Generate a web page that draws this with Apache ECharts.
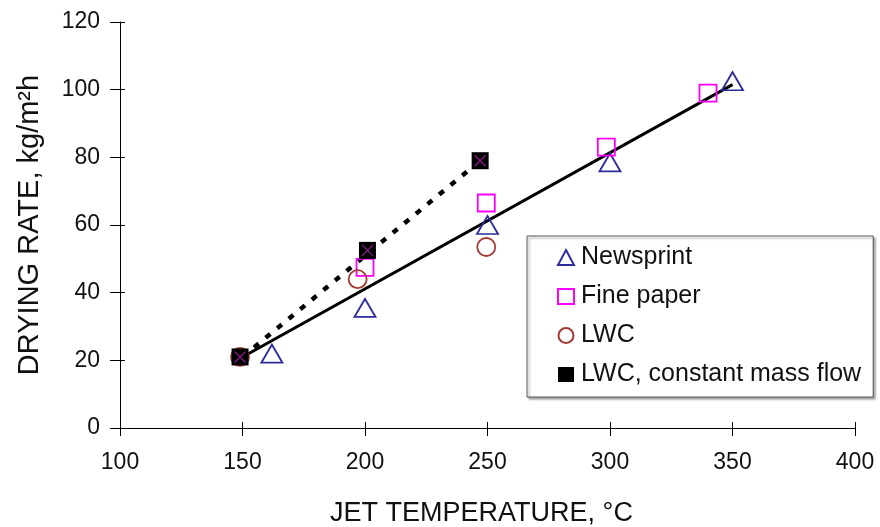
<!DOCTYPE html>
<html>
<head>
<meta charset="utf-8">
<script src="https://cdn.jsdelivr.net/npm/echarts@6/dist/echarts.min.js"></script>
<style>
  html, body { margin: 0; padding: 0; background: #fff; }
  #chart { width: 880px; height: 527px; }
</style>
</head>
<body>
<div id="chart"></div>
<script>
// Measured drying rates [jet temperature °C, kg/m²h]
const newsprint = [[162, 22], [200, 35.5], [250, 60], [300, 78.5], [350, 102.5]];
const finePaper = [[200, 47.5], [249.5, 66.5], [298.5, 83], [340, 99]];
const lwc = [[149, 21], [197, 44], [249.5, 53.5]];
const lwcConstFlow = [[149, 21], [201, 52.5], [247, 79]];

// Trend lines
const trendAll = [[150, 21], [350, 101.5]];
const trendConstFlow = [[150, 21], [247, 79]];

const xTicks = [100, 150, 200, 250, 300, 350, 400];
const yTicks = [0, 20, 40, 60, 80, 100, 120];

const font = 'Liberation Sans, Arial, sans-serif';
const xMark = 'path://M0,0 L10,10 M10,0 L0,10';

const xRange = { min: xTicks[0], max: xTicks[xTicks.length - 1], interval: 50 };
const yRange = { min: yTicks[0], max: yTicks[yTicks.length - 1], interval: 20 };

const chart = echarts.init(document.getElementById('chart'));
chart.setOption({
  animation: false,
  backgroundColor: '#fff',
  grid: { left: 120, right: 25, top: 22, bottom: 99, containLabel: false, outerBoundsMode: 'none' },
  xAxis: [
    {
      type: 'value', ...xRange,
      name: 'JET TEMPERATURE, °C',
      nameLocation: 'middle', nameGap: 72,
      nameTextStyle: { fontFamily: font, fontSize: 27, color: '#111', padding: [0, 12, 0, 0] },
      axisLine: { lineStyle: { color: '#000', width: 1 } },
      axisTick: { show: true, length: 8, lineStyle: { color: '#000' } },
      axisLabel: { fontFamily: font, fontSize: 23, color: '#111', margin: 23 },
      splitLine: { show: false }
    },
    {
      // inner half of the crossing tick marks
      type: 'value', ...xRange, position: 'bottom',
      axisLine: { show: false },
      axisTick: { show: true, inside: true, length: 6, lineStyle: { color: '#000' } },
      axisLabel: { show: false },
      splitLine: { show: false }
    }
  ],
  yAxis: [
    {
      type: 'value', ...yRange,
      name: 'DRYING RATE, kg/m²h',
      nameLocation: 'middle', nameGap: 76,
      nameTextStyle: { fontFamily: font, fontSize: 29, color: '#111' },
      axisLine: { show: true, lineStyle: { color: '#000', width: 1 } },
      axisTick: { show: true, length: 10, lineStyle: { color: '#000' } },
      axisLabel: { fontFamily: font, fontSize: 23, color: '#111', margin: 20 },
      splitLine: { show: false }
    },
    {
      type: 'value', ...yRange, position: 'left',
      axisLine: { show: false },
      axisTick: { show: true, inside: true, length: 5, lineStyle: { color: '#000' } },
      axisLabel: { show: false },
      splitLine: { show: false }
    }
  ],
  legend: {
    orient: 'vertical',
    left: 527, top: 236,
    padding: [9, 12, 10, 30],
    itemGap: 14,
    itemWidth: 16, itemHeight: 15,
    borderColor: '#555', borderWidth: 1,
    shadowColor: 'rgba(0,0,0,0.35)', shadowOffsetX: 2, shadowOffsetY: 2, shadowBlur: 2,
    backgroundColor: '#fff',
    textStyle: { fontFamily: font, fontSize: 25, color: '#111', padding: [0, 0, 0, 2] },
    data: ['Newsprint', 'Fine paper', 'LWC', 'LWC, constant mass flow']
  },
  series: [
    {
      type: 'line', data: trendAll, symbol: 'none', silent: true,
      lineStyle: { color: '#000', width: 3 }, z: 1
    },
    {
      type: 'line', data: trendConstFlow, symbol: 'none', silent: true,
      lineStyle: { color: '#000', width: 4.5, type: [6, 9] }, z: 1
    },
    {
      name: 'Newsprint', type: 'scatter', data: newsprint,
      symbol: 'triangle', symbolSize: [21, 18],
      itemStyle: { color: 'rgba(255,255,255,0)', borderColor: '#2b2b9c', borderWidth: 1.8, opacity: 1 }, z: 3
    },
    {
      name: 'Fine paper', type: 'scatter', data: finePaper,
      symbol: 'rect', symbolSize: 17,
      itemStyle: { color: 'rgba(255,255,255,0)', borderColor: '#ff00ff', borderWidth: 1.8, opacity: 1 }, z: 3
    },
    {
      name: 'LWC', type: 'scatter', data: lwc,
      symbol: 'circle', symbolSize: 18,
      itemStyle: { color: 'rgba(255,255,255,0)', borderColor: '#a33a32', borderWidth: 1.8, opacity: 1 }, z: 3
    },
    {
      name: 'LWC, constant mass flow', type: 'scatter', data: lwcConstFlow,
      symbol: 'rect', symbolSize: 17,
      itemStyle: { color: '#000', opacity: 1 }, z: 4
    },
    {
      name: 'LWC, constant mass flow', type: 'scatter', data: lwcConstFlow,
      symbol: xMark, symbolSize: 11, silent: true,
      itemStyle: { color: 'none', borderColor: '#8a1a8a', borderWidth: 1.3, opacity: 1 }, z: 5
    }
  ]
});
</script>
</body>
</html>
